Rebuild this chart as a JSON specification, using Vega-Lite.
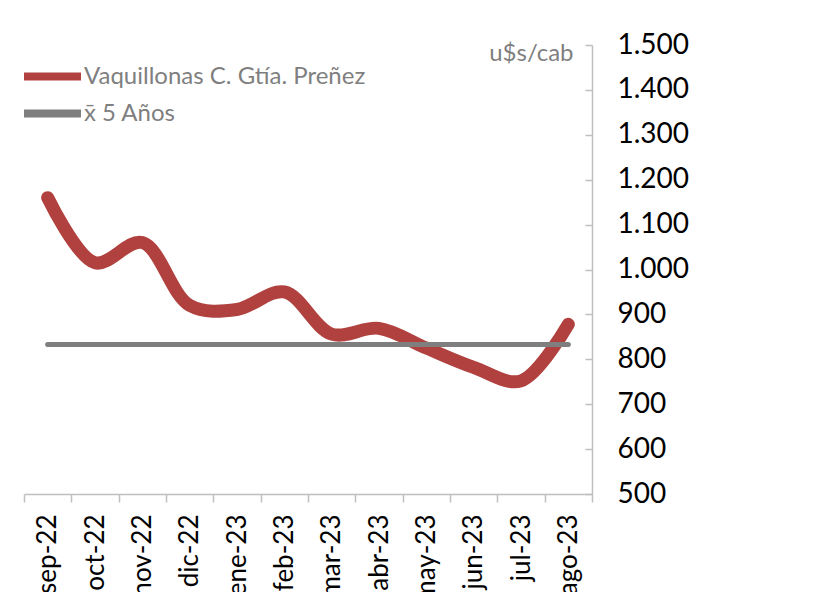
{
  "$schema": "https://vega.github.io/schema/vega-lite/v6.json",
  "width": 568,
  "height": 449,
  "autosize": {"type": "none"},
  "padding": {"left": 24, "top": 45, "right": 241, "bottom": 98},
  "background": "white",
  "config": {"view": {"stroke": null}, "font": "Lato"},
  "data": {
    "values": [
      {"mes": "sep-22", "serie": "Vaquillonas C. Gtía. Preñez", "valor": 1160},
      {"mes": "oct-22", "serie": "Vaquillonas C. Gtía. Preñez", "valor": 1015},
      {"mes": "nov-22", "serie": "Vaquillonas C. Gtía. Preñez", "valor": 1060},
      {"mes": "dic-22", "serie": "Vaquillonas C. Gtía. Preñez", "valor": 920},
      {"mes": "ene-23", "serie": "Vaquillonas C. Gtía. Preñez", "valor": 911},
      {"mes": "feb-23", "serie": "Vaquillonas C. Gtía. Preñez", "valor": 950},
      {"mes": "mar-23", "serie": "Vaquillonas C. Gtía. Preñez", "valor": 856},
      {"mes": "abr-23", "serie": "Vaquillonas C. Gtía. Preñez", "valor": 869},
      {"mes": "may-23", "serie": "Vaquillonas C. Gtía. Preñez", "valor": 825},
      {"mes": "jun-23", "serie": "Vaquillonas C. Gtía. Preñez", "valor": 782},
      {"mes": "jul-23", "serie": "Vaquillonas C. Gtía. Preñez", "valor": 752},
      {"mes": "ago-23", "serie": "Vaquillonas C. Gtía. Preñez", "valor": 878},
      {"mes": "sep-22", "serie": "x̄ 5 Años", "valor": 833},
      {"mes": "oct-22", "serie": "x̄ 5 Años", "valor": 833},
      {"mes": "nov-22", "serie": "x̄ 5 Años", "valor": 833},
      {"mes": "dic-22", "serie": "x̄ 5 Años", "valor": 833},
      {"mes": "ene-23", "serie": "x̄ 5 Años", "valor": 833},
      {"mes": "feb-23", "serie": "x̄ 5 Años", "valor": 833},
      {"mes": "mar-23", "serie": "x̄ 5 Años", "valor": 833},
      {"mes": "abr-23", "serie": "x̄ 5 Años", "valor": 833},
      {"mes": "may-23", "serie": "x̄ 5 Años", "valor": 833},
      {"mes": "jun-23", "serie": "x̄ 5 Años", "valor": 833},
      {"mes": "jul-23", "serie": "x̄ 5 Años", "valor": 833},
      {"mes": "ago-23", "serie": "x̄ 5 Años", "valor": 833}
    ]
  },
  "encoding": {
    "x": {
      "field": "mes",
      "type": "ordinal",
      "sort": null,
      "bandPosition": 0.5,
      "scale": {"type": "band", "paddingInner": 0, "paddingOuter": 0},
      "axis": {
        "title": null,
        "grid": false,
        "domainColor": "#bfbfbf",
        "domainWidth": 1.5,
        "tickColor": "#bfbfbf",
        "tickWidth": 1.5,
        "tickBand": "extent",
        "tickSize": 8,
        "labelAngle": 270,
        "labelFontSize": 26,
        "labelColor": "#000000",
        "labelPadding": 12
      }
    },
    "y": {
      "field": "valor",
      "type": "quantitative",
      "scale": {"domain": [500, 1500], "nice": false, "zero": false},
      "axis": {
        "orient": "right",
        "values": [500, 600, 700, 800, 900, 1000, 1100, 1200, 1300, 1400, 1500],
        "labelExpr": "replace(format(datum.value, ','), ',', '.')",
        "grid": false,
        "domainColor": "#bfbfbf",
        "domainWidth": 1.5,
        "tickColor": "#bfbfbf",
        "tickWidth": 1.5,
        "tickSize": -7,
        "labelFontSize": 28,
        "labelColor": "#000000",
        "labelPadding": 32,
        "labelBaseline": "middle",
        "title": "u$s/cab",
        "titleAngle": 0,
        "titleX": -19,
        "titleY": 8,
        "titleAlign": "right",
        "titleBaseline": "middle",
        "titleColor": "#7f7f7f",
        "titleFontSize": 24,
        "titleFontWeight": "normal"
      }
    },
    "color": {
      "field": "serie",
      "type": "nominal",
      "scale": {
        "domain": ["Vaquillonas C. Gtía. Preñez", "x̄ 5 Años"],
        "range": ["#b0413e", "#7f7f7f"]
      },
      "legend": {
        "title": null,
        "orient": "none",
        "legendX": 10,
        "legendY": 13,
        "symbolType": "M-2,0H2",
        "symbolSize": 812,
        "symbolStrokeWidth": 8,
        "rowPadding": 2,
        "labelFontSize": 24,
        "labelColor": "#7f7f7f",
        "labelOffset": 13,
        "labelLimit": 500
      }
    }
  },
  "layer": [
    {
      "transform": [{"filter": "datum.serie == 'Vaquillonas C. Gtía. Preñez'"}],
      "mark": {"type": "line", "interpolate": "catmull-rom", "strokeWidth": 13, "strokeCap": "round", "strokeJoin": "round"}
    },
    {
      "transform": [{"filter": "datum.serie != 'Vaquillonas C. Gtía. Preñez'"}],
      "mark": {"type": "line", "strokeWidth": 5, "strokeCap": "round"}
    }
  ]
}
